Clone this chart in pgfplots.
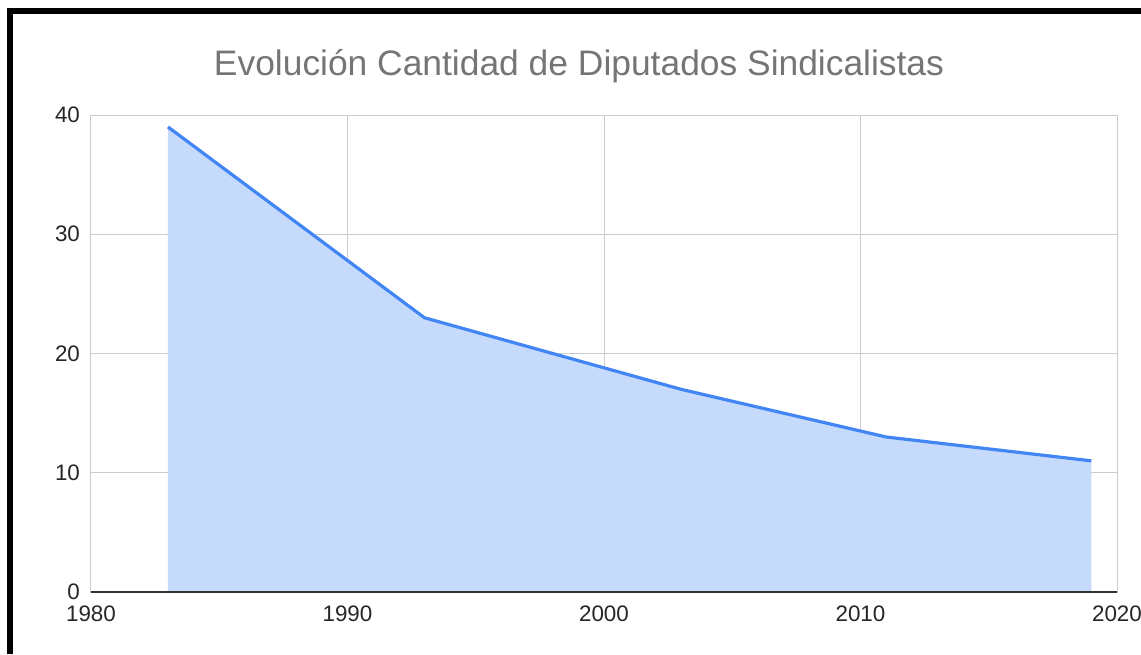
\documentclass[border=0pt]{standalone}
\usepackage{pgfplots}
\pgfplotsset{compat=1.18}
\usepackage{fontspec}
\setmainfont{Liberation Sans}
\definecolor{lineblue}{HTML}{4285F4}
\definecolor{fillblue}{HTML}{C6DAFC}
\definecolor{gridgray}{HTML}{CCCCCC}
\definecolor{titlegray}{HTML}{757575}
\definecolor{axisdark}{HTML}{333333}

\begin{document}
\begin{tikzpicture}
% 1 px of the reference = 0.5pt
\begin{axis}[scale only axis,width=513pt,height=238.5pt,
  anchor=south west,at={(45.5pt,-296pt)},
  xmin=1980,xmax=2020,ymin=0,ymax=40,
  xtick={1980,1990,2000,2010,2020},ytick={0,10,20,30,40},
  xticklabel style={/pgf/number format/1000 sep=,yshift=-3.5pt},
  yticklabel style={xshift=-2pt},
  /pgf/number format/assume math mode=true,
  tick label style={font=\fontsize{11.2}{13}\selectfont,text=black!85},
  tick style={draw=none},
  grid=major,grid style={draw=gridgray,line width=0.5pt},
  axis line style={draw=gridgray,line width=0.5pt},
  xtick pos=bottom,ytick pos=left]
\addplot[fill=fillblue,draw=none] coordinates
  {(1983,39)(1993,23)(2003,17)(2011,13)(2019,11)} \closedcycle;
\addplot[lineblue,line width=1.6pt] coordinates
  {(1983,39)(1993,23)(2003,17)(2011,13)(2019,11)};
\draw[axisdark,line width=0.8pt] (axis cs:1980,0) -- (axis cs:2020,0);
\end{axis}
\node[anchor=base,text=titlegray,font=\fontsize{17.7}{21}\selectfont]
  at (289.5pt,-37.5pt) {Evolución Cantidad de Diputados Sindicalistas};
\draw[black,line width=3pt] (5pt,-327pt) -- (5pt,-5.5pt) -- (570.5pt,-5.5pt);
\pgfresetboundingbox
\path (0,0) rectangle (570.5pt,-327pt);
\end{tikzpicture}
\end{document}
